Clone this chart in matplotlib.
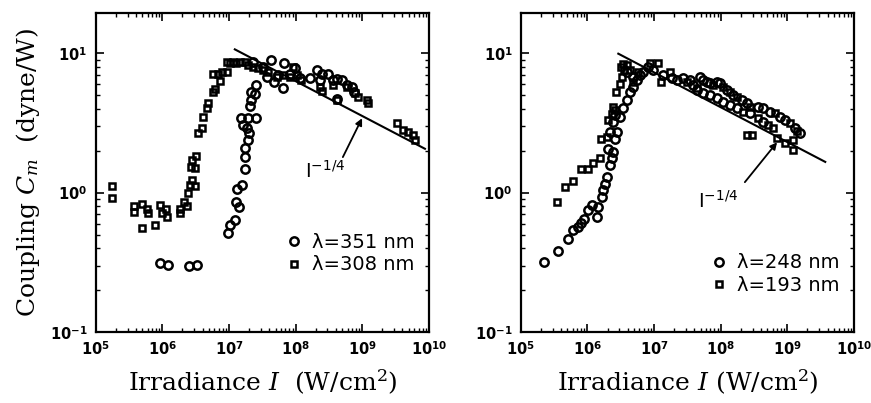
import matplotlib
matplotlib.use('Agg')
import matplotlib.pyplot as plt
from matplotlib.ticker import LogLocator, NullFormatter, FixedLocator
import numpy as np

plt.rcParams['mathtext.fontset'] = 'custom'
plt.rcParams['mathtext.rm'] = 'DejaVu Sans:bold'
plt.rcParams['mathtext.bf'] = 'DejaVu Sans:bold'
plt.rcParams['mathtext.it'] = 'DejaVu Serif:italic'

# left panel: lambda = 351 nm (circles)
I_351 = [9.14e5, 1.22e6, 2.52e6, 3.32e6, 9.7e6, 1.03e7, 1.22e7, 1.26e7, 1.42e7, 1.32e7,
         1.56e7, 1.73e7, 1.73e7, 1.73e7, 1.94e7, 2.00e7, 1.63e7, 1.83e7, 1.49e7, 1.94e7,
         2.52e7, 2.05e7, 2.17e7, 2.44e7, 2.10e7, 2.58e7, 2.30e7, 3.25e7, 4.20e7, 3.65e7,
         4.71e7, 6.35e7, 6.73e7, 5.47e7, 8.18e7, 9.73e7, 1.16e8, 1.63e8, 2.10e8, 2.44e8,
         2.31e8, 3.08e8, 3.66e8, 4.11e8, 4.11e8, 4.89e8, 5.81e8, 6.90e8, 7.48e8]
C_351 = [0.313, 0.304, 0.296, 0.304, 0.518, 0.59, 0.64, 0.86, 0.79, 1.06,
         1.14, 1.47, 1.80, 2.08, 2.39, 2.70, 3.06, 2.90, 3.42, 3.42,
         3.42, 4.19, 4.62, 5.10, 5.31, 5.93, 8.71, 8.02, 8.96, 6.81,
         6.27, 5.61, 8.47, 7.00, 7.11, 7.80, 6.62, 6.62, 7.60, 7.11,
         6.44, 7.11, 6.44, 6.52, 4.68, 6.44, 5.93, 5.77, 5.31]

# left panel: lambda = 308 nm (squares)
I_308 = [1.72e5, 1.72e5, 3.77e5, 3.77e5, 4.85e5, 4.85e5, 5.77e5, 6.11e5, 7.69e5, 9.14e5,
         9.68e5, 1.15e6, 1.18e6, 1.82e6, 1.82e6, 2.09e6, 2.30e6, 2.43e6, 2.58e6, 2.73e6,
         3.06e6, 2.64e6, 2.73e6, 3.24e6, 3.06e6, 3.44e6, 3.86e6, 4.09e6, 4.59e6, 4.86e6,
         5.78e6, 6.12e6, 5.78e6, 6.87e6, 7.28e6, 7.71e6, 9.16e6, 9.16e6, 1.03e7, 1.15e7,
         1.29e7, 1.45e7, 1.73e7, 1.94e7, 2.30e7, 2.73e7, 3.25e7, 3.87e7, 5.16e7, 6.50e7,
         8.18e7, 9.18e7, 1.03e8, 1.22e8, 2.31e8, 2.44e8, 3.66e8, 4.11e8, 5.81e8, 7.74e8,
         8.69e8, 1.16e9, 1.23e9, 3.27e9, 4.12e9, 4.90e9, 5.82e9, 6.17e9]
C_308 = [1.11, 0.91, 0.80, 0.73, 0.83, 0.56, 0.76, 0.71, 0.59, 0.82,
         0.71, 0.76, 0.67, 0.77, 0.72, 0.86, 0.80, 1.00, 1.14, 1.24,
         1.11, 1.54, 1.72, 1.82, 1.50, 2.67, 2.90, 3.52, 4.04, 4.38,
         5.31, 5.52, 7.11, 7.11, 6.37, 7.39, 7.39, 8.71, 8.57, 8.71,
         8.47, 8.71, 8.71, 8.25, 8.02, 7.80, 7.60, 7.39, 6.81, 7.00,
         6.81, 8.02, 7.00, 6.44, 5.77, 5.40, 5.93, 4.62, 5.71, 5.17,
         4.89, 4.62, 4.43, 3.15, 2.82, 2.74, 2.60, 2.39]

# right panel: lambda = 248 nm (circles)
I_248 = [2.2e5, 3.6e5, 5.1e5, 6.1e5, 7.2e5, 8.1e5, 8.8e5, 1.03e6, 1.15e6, 1.37e6,
         1.45e6, 1.63e6, 1.72e6, 1.82e6, 1.93e6, 2.17e6, 2.30e6, 2.05e6, 2.43e6, 2.17e6,
         2.58e6, 2.73e6, 2.43e6, 2.58e6, 3.06e6, 3.44e6, 3.86e6, 4.33e6, 4.86e6, 5.45e6,
         6.12e6, 3.87e6, 4.86e6, 6.87e6, 8.17e6, 9.7e6, 1.37e7, 1.83e7, 2.17e7, 2.73e7,
         3.44e7, 3.86e7, 4.87e7, 5.47e7, 6.14e7, 6.89e7, 8.67e7, 9.73e7, 1.22e8, 1.54e8,
         2.06e8, 2.44e8, 3.66e8, 4.35e8, 5.48e8, 7.74e8, 9.2e8, 1.30e9, 1.55e9,
         4.34e7, 5.47e7, 6.89e7, 8.67e7, 1.09e8, 1.37e8, 1.73e8, 2.74e8, 4.35e8]
C_248 = [0.316, 0.383, 0.465, 0.54, 0.57, 0.61, 0.65, 0.75, 0.81, 0.67,
         0.79, 0.93, 1.04, 1.16, 1.30, 1.57, 1.76, 2.07, 1.96, 2.73,
         2.44, 2.73, 3.22, 3.60, 3.49, 4.02, 4.61, 5.28, 5.73, 6.40,
         6.95, 7.39, 6.81, 7.39, 8.02, 7.60, 6.99, 6.62, 6.44, 6.62,
         6.44, 5.93, 6.81, 6.44, 6.27, 6.10, 6.27, 6.10, 5.46, 5.03,
         4.62, 4.38, 4.15, 4.04, 3.82, 3.52, 3.33, 2.90, 2.67,
         5.46, 5.17, 5.03, 4.75, 4.50, 4.27, 4.04, 3.72, 3.24]

# right panel: lambda = 193 nm (squares)
I_193 = [3.5e5, 4.6e5, 6.0e5, 7.9e5, 1.03e6, 1.22e6, 1.53e6, 1.59e6, 1.93e6, 2.05e6,
         2.30e6, 2.58e6, 2.40e6, 2.67e6, 3.06e6, 3.24e6, 3.56e6, 3.86e6, 3.44e6, 4.33e6,
         4.86e6, 3.2e6, 5.78e6, 8.65e6, 1.15e7, 1.29e7, 1.73e7, 3.07e7, 4.34e7, 7.73e7,
         1.09e8, 1.37e8, 1.73e8, 2.74e8, 6.52e8, 1.09e9, 1.38e9, 2.18e8, 3.66e8, 5.18e8,
         6.15e8, 2.44e8, 2.91e8, 6.9e8, 9.2e8, 1.23e9, 1.23e9]
C_193 = [0.86, 1.10, 1.22, 1.49, 1.49, 1.62, 1.76, 2.44, 2.51, 3.31,
         3.70, 3.95, 4.12, 5.28, 6.07, 6.77, 7.64, 8.21, 8.44, 7.55,
         6.22, 8.02, 7.39, 8.47, 8.47, 6.27, 7.39, 6.27, 5.61, 5.93,
         5.77, 5.32, 4.89, 4.15, 3.72, 3.15, 2.75, 3.82, 3.42, 3.06,
         2.90, 2.60, 2.60, 2.46, 2.26, 2.39, 2.03]

# I^(-1/4) guide lines: log10 prefactor and intensity range
fit_logK = [2.80, 2.613]
fit_range = [(1.22e7, 8.7e9), (2.9e6, 3.7e9)]
slope = -0.25

# annotation: label position, arrow tail, arrow head
ann_text = [(1.37e8, 1.19), (4.55e7, 0.724)]
ann_tail = [(5.1e8, 1.80), (2.3e8, 1.19)]
ann_head = [(9.9e8, 3.42), (7.0e8, 2.30)]

labels = [('λ=351 nm', 'λ=308 nm'), ('λ=248 nm', 'λ=193 nm')]
xlabels = [r'Irradiance $I$  (W/cm$^{\mathregular{2}}$)', r'Irradiance $I$ (W/cm$^{\mathregular{2}}$)']

fig = plt.figure(figsize=(8.71, 4.03), dpi=100)
ax1 = fig.add_axes([0.110, 0.176, 0.3825, 0.792])
ax2 = fig.add_axes([0.598, 0.176, 0.3825, 0.792])
axes = [ax1, ax2]
series = [((I_351, C_351), (I_308, C_308)), ((I_248, C_248), (I_193, C_193))]
legend_pos = [(0.985, 0.15), (0.985, 0.085)]

for k, ax in enumerate(axes):
    (xa, ya), (xb, yb) = series[k]
    h1, = ax.plot(xa, ya, 'o', ms=6, mfc='none', mec='black', mew=1.8)
    h2, = ax.plot(xb, yb, 's', ms=4.8, mfc='none', mec='black', mew=1.8)
    xf = np.logspace(np.log10(fit_range[k][0]), np.log10(fit_range[k][1]), 50)
    ax.plot(xf, 10 ** fit_logK[k] * xf ** slope, color='black', lw=1.5)
    ax.annotate('', xy=ann_head[k], xytext=ann_tail[k],
                arrowprops=dict(arrowstyle='-|>', color='black', lw=1.3,
                                mutation_scale=10, shrinkA=0, shrinkB=0))
    ax.text(ann_text[k][0], ann_text[k][1], r'$\mathregular{I^{-1/4}}$',
            fontsize=14, family='DejaVu Sans', ha='left', va='bottom')
    ax.set_xscale('log')
    ax.set_yscale('log')
    ax.set_xlim(1e5, 1e10)
    ax.set_ylim(0.1, 19.5)
    ax.xaxis.set_major_locator(FixedLocator([1e5, 1e6, 1e7, 1e8, 1e9, 1e10]))
    ax.yaxis.set_major_locator(FixedLocator([0.1, 1, 10]))
    ax.set_xticklabels([r'$10^{%d}$' % e for e in range(5, 11)])
    ax.set_yticklabels([r'$10^{-1}$', r'$10^{0}$', r'$10^{1}$'])
    ax.xaxis.set_minor_locator(LogLocator(base=10, subs=np.arange(2, 10), numticks=20))
    ax.yaxis.set_minor_locator(LogLocator(base=10, subs=np.arange(2, 10), numticks=20))
    ax.xaxis.set_minor_formatter(NullFormatter())
    ax.yaxis.set_minor_formatter(NullFormatter())
    ax.tick_params(which='both', direction='in', top=True, right=True, labelsize=10.5)
    ax.tick_params(which='major', length=6, width=1.2, pad=6)
    ax.tick_params(which='minor', length=3, width=1)
    for s in ax.spines.values():
        s.set_linewidth(1.6)
    ax.set_xlabel(xlabels[k], family='DejaVu Serif', fontsize=18, labelpad=7)
    ax.legend([h1, h2], labels[k], loc='lower right', bbox_to_anchor=legend_pos[k],
              frameon=False, handletextpad=0.4, labelspacing=0.2,
              borderpad=0, handlelength=1.0, prop={'family': 'DejaVu Sans', 'size': 14})

ax1.set_ylabel(r'Coupling $C_m$  (dyne/W)', family='DejaVu Serif', fontsize=18, labelpad=6)

fig.savefig('out.png', dpi=100)
